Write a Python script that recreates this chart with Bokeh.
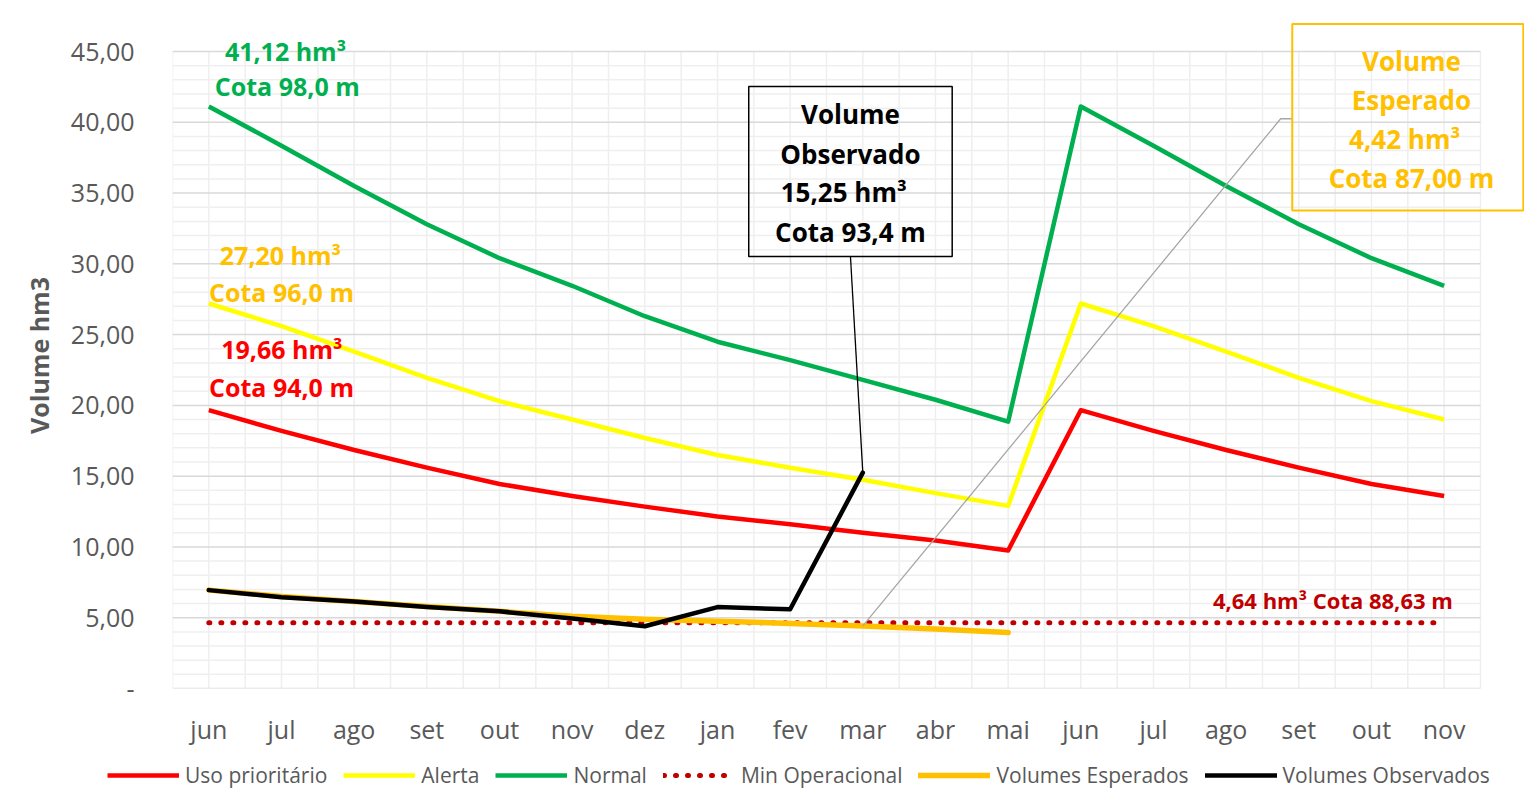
from bokeh.plotting import figure
from bokeh.layouts import column
from bokeh.models import FixedTicker, Label, Legend, LegendItem, BoxAnnotation
from bokeh.embed import file_html
from bokeh.resources import INLINE

# ---------------- data ----------------
months = ["jun", "jul", "ago", "set", "out", "nov", "dez", "jan", "fev",
          "mar", "abr", "mai", "jun", "jul", "ago", "set", "out", "nov"]
uso_prioritario = [19.66, 18.2, 16.85, 15.6, 14.45, 13.6, 12.85, 12.15, 11.6,
                   11.0, 10.45, 9.75, 19.66, 18.2, 16.85, 15.6, 14.45, 13.6]
alerta = [27.20, 25.6, 23.8, 21.95, 20.3, 19.0, 17.7, 16.5, 15.6,
          14.75, 13.8, 12.9, 27.20, 25.6, 23.8, 21.95, 20.3, 19.0]
normal = [41.12, 38.35, 35.5, 32.8, 30.4, 28.45, 26.3, 24.5, 23.2,
          21.8, 20.4, 18.85, 41.12, 38.35, 35.5, 32.8, 30.4, 28.45]
min_operacional = [4.64] * 18
volumes_esperados = [6.95, 6.5, 6.15, 5.8, 5.45, 5.1, 4.9, 4.75, 4.6, 4.42, 4.2, 3.95]
volumes_observados = [6.95, 6.45, 6.15, 5.75, 5.45, 4.95, 4.4, 5.75, 5.6, 15.25]

series_names = ["Uso prioritário", "Alerta", "Normal", "Min Operacional",
                "Volumes Esperados", "Volumes Observados"]

y_ticks = [0, 5, 10, 15, 20, 25, 30, 35, 40, 45]
y_tick_labels = ["-", "5,00", "10,00", "15,00", "20,00", "25,00", "30,00", "35,00", "40,00", "45,00"]

x = list(range(len(months)))
n = len(months)
y_max = y_ticks[-1]

FONT = "Open Sans"
GREY = "#595959"

styles = [
    dict(line_color="#FF0000", line_width=4.5, line_join="round"),
    dict(line_color="#FFFF00", line_width=4.5, line_join="round"),
    dict(line_color="#00B050", line_width=4.5, line_join="round"),
    dict(line_color="#C00000", line_width=5, line_dash="1 11", line_cap="round"),
    dict(line_color="#FFC000", line_width=5.5, line_join="round", line_cap="round"),
    dict(line_color="#000000", line_width=4.5, line_join="round", line_cap="round"),
]
series = [uso_prioritario, alerta, normal, min_operacional, volumes_esperados, volumes_observados]

p = figure(width=1524, height=750, x_range=(-0.5, 18.106), y_range=(0, 47.05),
           output_backend="svg", toolbar_location=None,
           min_border_left=172, min_border_right=0, min_border_top=22,
           min_border_bottom=62)
p.outline_line_color = None
p.background_fill_color = "white"
p.border_fill_color = "white"
p.grid.visible = False

# grid lines (limited to the plotting area of the categories)
vx = [i * 0.5 - 0.5 for i in range(2 * n + 1)]
p.segment(x0=vx, y0=[0] * len(vx), x1=vx, y1=[y_max] * len(vx),
          line_color="#efefef", line_width=1.5)
minor_y = [v for v in range(y_max + 1) if v % 5]
p.segment(x0=[-0.5] * len(minor_y), y0=minor_y, x1=[n - 0.5] * len(minor_y), y1=minor_y,
          line_color="#efefef", line_width=1.5)
p.segment(x0=[-0.5] * len(y_ticks), y0=y_ticks, x1=[n - 0.5] * len(y_ticks), y1=y_ticks,
          line_color="#d9d9d9", line_width=1.5)

# axes
p.xaxis.ticker = FixedTicker(ticks=x)
p.xaxis.major_label_overrides = {i: m for i, m in enumerate(months)}
p.xaxis.major_tick_line_color = None
p.xaxis.minor_tick_line_color = None
p.xaxis.axis_line_color = None
p.xaxis.major_label_text_font = FONT
p.xaxis.major_label_text_font_size = "25px"
p.xaxis.major_label_text_color = GREY
p.xaxis.major_label_standoff = 17

p.yaxis.ticker = FixedTicker(ticks=y_ticks)
p.yaxis.major_label_overrides = {v: t for v, t in zip(y_ticks, y_tick_labels)}
p.yaxis.major_tick_line_color = None
p.yaxis.minor_tick_line_color = None
p.yaxis.axis_line_color = None
p.yaxis.major_label_text_font = FONT
p.yaxis.major_label_text_font_size = "25px"
p.yaxis.major_label_text_color = GREY
p.yaxis.major_label_standoff = 32
p.yaxis.axis_label = "Volume hm3"
p.yaxis.axis_label_text_font = FONT
p.yaxis.axis_label_text_font_size = "25px"
p.yaxis.axis_label_text_font_style = "bold"
p.yaxis.axis_label_text_color = GREY
p.yaxis.axis_label_standoff = 12

# series
for vals, st in zip(series, styles):
    p.line(x[:len(vals)], vals, **st)

# leader lines for callouts
i_mar = 9
p.line([i_mar, 14.75, 14.91], [volumes_esperados[i_mar], 40.25, 40.25],
       line_color="#a6a6a6", line_width=1.3)
p.line([8.83, i_mar], [30.52, volumes_observados[i_mar]],
       line_color="#000000", line_width=1.3)

# callout boxes (transparent, border only)
p.add_layout(BoxAnnotation(left=7.43, right=10.23, bottom=30.52, top=42.53,
                           fill_color=None, line_color="black", line_alpha=1.0,
                           line_width=1.5))
p.add_layout(BoxAnnotation(left=14.91, right=18.09, bottom=33.77, top=46.95,
                           fill_color=None, line_color="#FFC000", line_alpha=1.0,
                           line_width=2))

# annotations
def lab(xv, yv, text, color, size="25px", align="center"):
    p.add_layout(Label(x=xv, y=yv, text=text, text_align=align, text_baseline="middle",
                       text_font=FONT, text_font_size=size, text_font_style="bold",
                       text_color=color))

lab(1.10, 45.07, "41,12  hm³", "#00B050")
lab(1.08, 42.53, "Cota 98,0 m", "#00B050")
lab(1.03, 30.59, "27,20  hm³", "#FFC000")
lab(1.00, 28.04, "Cota 96,0 m", "#FFC000")
lab(1.05, 23.95, "19,66  hm³", "#FF0000")
lab(1.00, 21.33, "Cota 94,0 m", "#FF0000")
lab(17.12, 6.22, "4,64 hm³ Cota 88,63 m", "#C00000", size="22px", align="right")

for yv, t in zip([40.62, 37.79, 35.11, 32.28],
                 ["Volume", "Observado", " 15,25  hm³", "Cota 93,4 m"]):
    lab(8.83, yv, t, "#000000", size="26px")
for yv, t in zip([44.36, 41.54, 38.85, 36.03],
                 ["Volume", "Esperado", " 4,42  hm³", "Cota 87,00 m"]):
    lab(16.55, yv, t, "#FFC000", size="26px")

# ---------------- legend strip ----------------
# (series are drawn again here, out of the visible range, so the legend shows their styles)
pl = figure(width=1524, height=56, output_backend="svg", toolbar_location=None,
            x_range=(-200, -199), y_range=(-200, -199), min_border=0)
try:
    pl.frame_align = False
except AttributeError:
    pass
pl.axis.visible = False
pl.grid.visible = False
pl.outline_line_color = None
items = []
for name, vals, st in zip(series_names, series, styles):
    r = pl.line(x[:len(vals)], vals, **st)
    items.append(LegendItem(label=name, renderers=[r]))
legend = Legend(items=items, orientation="horizontal", location=(107, 17))
legend.label_text_font = FONT
legend.label_text_font_size = "21px"
legend.label_text_color = GREY
legend.glyph_width = 72
legend.glyph_height = 20
legend.label_standoff = 6
legend.spacing = 16
legend.padding = 5
legend.margin = 0
legend.border_line_color = None
legend.background_fill_alpha = 0
pl.add_layout(legend, "center")

layout = column(p, pl, spacing=0)
open("out.html", "w").write(file_html(layout, INLINE))
